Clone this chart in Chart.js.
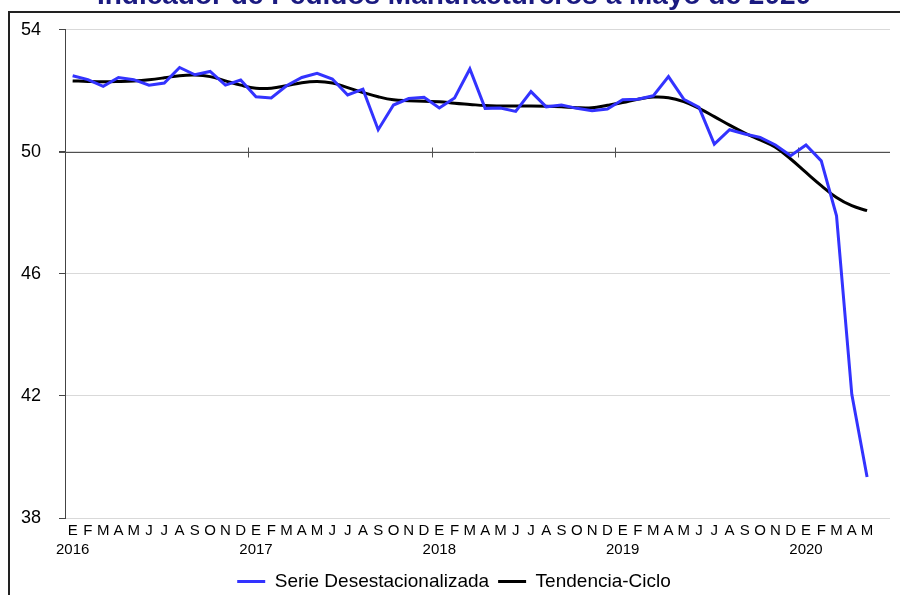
<!DOCTYPE html>
<html lang="es">
  <head>
    <meta charset="UTF-8" />
    <title>Indicador de Pedidos Manufactureros</title>
    <style>
      html,
      body {
        margin: 0;
        padding: 0;
        background: #fff;
        overflow: hidden;
      }
      #frame {
        position: absolute;
        left: 8px;
        top: 11px;
        width: 1000px;
        height: 700px;
        border: 2px solid #222;
        pointer-events: none;
      }
      #wrap {
        position: absolute;
        left: 0;
        top: -40px;
        width: 900px;
        height: 641px;
      }
    </style>
  </head>
  <body>
    <div id="frame"></div>
    <div id="wrap">
      <canvas id="chart"></canvas>
    </div>

    <script src="https://cdn.jsdelivr.net/npm/chart.js@4.2.1/dist/chart.umd.min.js"></script>
    <script>
      // ene 2016 - may 2020
      const months = ["E", "F", "M", "A", "M", "J", "J", "A", "S", "O", "N", "D"];
      const years = ["2016", "2017", "2018", "2019", "2020"];

      const serie = [
        52.49, 52.36, 52.14, 52.43, 52.36, 52.18, 52.25, 52.76, 52.52, 52.63, 52.18, 52.35,
        51.80, 51.76, 52.16, 52.43, 52.57, 52.38, 51.86, 52.05, 50.72, 51.53, 51.74, 51.78,
        51.43, 51.76, 52.71, 51.42, 51.43, 51.32, 51.97, 51.47, 51.53, 51.42, 51.34, 51.40,
        51.70, 51.72, 51.83, 52.46, 51.72, 51.45, 50.25, 50.72, 50.58, 50.47, 50.22, 49.87,
        50.22, 49.70, 47.90, 42.05, 39.34,
      ];
      const tendencia = [
        52.32, 52.30, 52.29, 52.30, 52.32, 52.36, 52.42, 52.49, 52.51, 52.46, 52.32, 52.18,
        52.08, 52.08, 52.16, 52.26, 52.30, 52.25, 52.10, 51.94, 51.80, 51.70, 51.67, 51.65,
        51.64, 51.59, 51.55, 51.51, 51.50, 51.50, 51.50, 51.49, 51.47, 51.44, 51.44, 51.52,
        51.61, 51.72, 51.79, 51.77, 51.64, 51.42, 51.15, 50.87, 50.61, 50.39, 50.15, 49.76,
        49.32, 48.89, 48.50, 48.23, 48.07,
      ];

      const yTicks = [38, 42, 46, 50, 54];
      const axisCross = 50;
      const slots = 54; // one empty month after the last value

      const labels = [];
      for (let i = 0; i < slots; i++) {
        const m = i < serie.length ? months[i % 12] : "";
        labels.push(i % 12 === 0 ? [m, years[i / 12]] : m);
      }

      const FONT = "'Liberation Sans', Arial, sans-serif";

      // line at 50 with year ticks, under the series
      const crossLine = {
        id: "crossLine",
        beforeDatasetsDraw(chart) {
          const { ctx, chartArea, scales } = chart;
          const x = scales.x;
          const yy = Math.round(scales.y.getPixelForValue(axisCross)) + 0.5;
          const step = x.getPixelForValue(1) - x.getPixelForValue(0);
          ctx.save();
          ctx.strokeStyle = "#505050";
          ctx.lineWidth = 1;
          ctx.beginPath();
          ctx.moveTo(chartArea.left - 6, yy);
          ctx.lineTo(chartArea.right, yy);
          for (let i = 12; i < slots; i += 12) {
            const px = Math.round(x.getPixelForValue(i) - step / 2) + 0.5;
            ctx.moveTo(px, yy - 5);
            ctx.lineTo(px, yy + 5);
          }
          ctx.stroke();
          ctx.restore();
        },
      };

      new Chart(document.getElementById("chart"), {
        type: "line",
        data: {
          labels: labels,
          datasets: [
            {
              label: "Serie Desestacionalizada",
              data: serie,
              borderColor: "#3333ff",
              backgroundColor: "#3333ff",
              borderWidth: 3,
              pointRadius: 0,
              tension: 0,
            },
            {
              label: "Tendencia-Ciclo",
              data: tendencia,
              borderColor: "#000",
              backgroundColor: "#000",
              borderWidth: 3,
              pointRadius: 0,
              tension: 0.4,
            },
          ],
        },
        options: {
          responsive: true,
          maintainAspectRatio: false,
          animation: false,
          devicePixelRatio: 1,
          layout: { padding: { left: 18, right: 10, top: 0, bottom: 0 } },
          plugins: {
            title: {
              display: true,
              text: "Indicador de Pedidos Manufactureros a Mayo de 2020",
              color: "#1a1a80",
              font: { family: FONT, size: 28, weight: "bold", lineHeight: 1.2 },
              padding: { top: 19, bottom: 17 },
            },
            legend: {
              position: "bottom",
              labels: {
                usePointStyle: true,
                pointStyle: "line",
                pointStyleWidth: 28,
                color: "#000",
                font: { family: FONT, size: 19 },
                padding: 9,
              },
            },
            tooltip: { enabled: false },
          },
          scales: {
            x: {
              offset: true,
              grid: { display: false, drawTicks: false },
              border: { display: false },
              ticks: {
                autoSkip: false,
                maxRotation: 0,
                minRotation: 0,
                padding: 3,
                color: "#000",
                font: { family: FONT, size: 15, lineHeight: 1.3 },
              },
            },
            y: {
              min: yTicks[0],
              max: yTicks[yTicks.length - 1],
              afterBuildTicks(scale) {
                scale.ticks = yTicks.map((v) => ({ value: v }));
              },
              afterFit(scale) {
                scale.width = 47;
              },
              grid: {
                color: "#d9d9d9",
                tickColor: "#444",
                tickLength: 6,
              },
              border: { display: true, color: "#444", width: 1 },
              ticks: {
                padding: 18,
                color: "#000",
                font: { family: FONT, size: 18 },
              },
            },
          },
        },
        plugins: [crossLine],
      });
    </script>
  </body>
</html>
